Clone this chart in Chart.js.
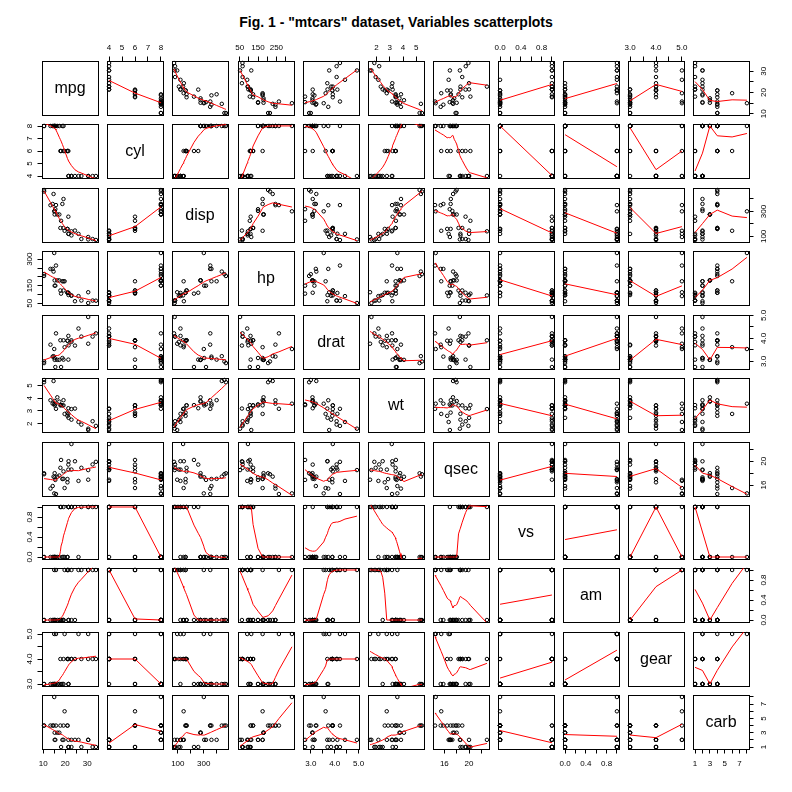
<!DOCTYPE html>
<html><head><meta charset="utf-8">
<script src="https://cdn.jsdelivr.net/npm/chart.js@4.4.1/dist/chart.umd.min.js"></script>
<style>
html,body{margin:0;padding:0;background:#fff;}
#wrap{position:relative;width:792px;height:792px;overflow:hidden;background:#fff;}
#title{position:absolute;left:0;width:792px;top:15px;text-align:center;font:bold 14px 'Liberation Sans',Arial,sans-serif;line-height:14px;color:#000;white-space:nowrap;}
canvas{position:absolute;}
</style></head><body>
<div id="wrap"><div id="title">Fig. 1 - "mtcars" dataset, Variables scatterplots</div></div>
<script>
// ---------------- data (mtcars) ----------------
const varNames = ["mpg","cyl","disp","hp","drat","wt","qsec","vs","am","gear","carb"];
const mpg  = [21.0,21.0,22.8,21.4,18.7,18.1,14.3,24.4,22.8,19.2,17.8,16.4,17.3,15.2,10.4,10.4,14.7,32.4,30.4,33.9,21.5,15.5,15.2,13.3,19.2,27.3,26.0,30.4,15.8,19.7,15.0,21.4];
const cyl  = [6,6,4,6,8,6,8,4,4,6,6,8,8,8,8,8,8,4,4,4,4,8,8,8,8,4,4,4,8,6,8,4];
const disp = [160,160,108,258,360,225,360,146.7,140.8,167.6,167.6,275.8,275.8,275.8,472,460,440,78.7,75.7,71.1,120.1,318,304,350,400,79,120.3,95.1,351,145,301,121];
const hp   = [110,110,93,110,175,105,245,62,95,123,123,180,180,180,205,215,230,66,52,65,97,150,150,245,175,66,91,113,264,175,335,109];
const drat = [3.90,3.90,3.85,3.08,3.15,2.76,3.21,3.69,3.92,3.92,3.92,3.07,3.07,3.07,2.93,3.00,3.23,4.08,4.93,4.22,3.70,2.76,3.15,3.73,3.08,4.08,4.43,3.77,4.22,3.62,3.54,4.11];
const wt   = [2.620,2.875,2.320,3.215,3.440,3.460,3.570,3.190,3.150,3.440,3.440,4.070,3.730,3.780,5.250,5.424,5.345,2.200,1.615,1.835,2.465,3.520,3.435,3.840,3.845,1.935,2.140,1.513,3.170,2.770,3.570,2.780];
const qsec = [16.46,17.02,18.61,19.44,17.02,20.22,15.84,20.00,22.90,18.30,18.90,17.40,17.60,18.00,17.98,17.82,17.42,19.47,18.52,19.90,20.01,16.87,17.30,15.41,17.05,18.90,16.70,16.90,14.50,15.50,14.60,18.60];
const vs   = [0,0,1,1,0,1,0,1,1,1,1,0,0,0,0,0,0,1,1,1,1,0,0,0,0,1,0,1,0,0,0,1];
const am   = [1,1,1,0,0,0,0,0,0,0,0,0,0,0,0,0,0,1,1,1,0,0,0,0,0,1,1,1,1,1,1,1];
const gear = [4,4,4,3,3,3,3,4,4,4,4,3,3,3,3,3,3,4,4,4,3,3,3,3,3,4,5,5,5,5,5,4];
const carb = [4,4,1,1,2,1,4,2,2,4,4,3,3,3,4,4,4,1,2,1,1,2,2,4,2,1,2,2,4,6,8,2];

// ---------------- ticks and tick labels ----------------
const mpgTicks  = [10,15,20,25,30];          const mpgLabels  = ["10","","20","","30"];
const cylTicks  = [4,5,6,7,8];               const cylLabels  = ["4","5","6","7","8"];
const dispTicks = [100,200,300,400];         const dispLabels = ["100","","300",""];
const hpTicks   = [50,100,150,200,250,300];  const hpLabelsH  = ["50","","150","","250",""];
                                             const hpLabelsV  = ["50","","150","","","300"];
const dratTicks = [3,3.5,4,4.5,5];           const dratLabels = ["3.0","","4.0","","5.0"];
const wtTicks   = [2,3,4,5];                 const wtLabels   = ["2","3","4","5"];
const qsecTicks = [16,18,20,22];             const qsecLabels = ["16","","20",""];
const vsTicks   = [0,0.2,0.4,0.6,0.8,1];     const vsLabels   = ["0.0","","0.4","","0.8",""];
const amTicks   = [0,0.2,0.4,0.6,0.8,1];     const amLabels   = ["0.0","","0.4","","0.8",""];
const gearTicks = [3,3.5,4,4.5,5];           const gearLabels = ["3.0","","4.0","","5.0"];
const carbTicks = [1,2,3,4,5,6,7,8];         const carbLabels = ["1","","3","","5","","7",""];

const titleText = 'Fig. 1 - "mtcars" dataset, Variables scatterplots';

// ---------------- assembly ----------------
const vars = [mpg,cyl,disp,hp,drat,wt,qsec,vs,am,gear,carb];
const ticksList = [mpgTicks,cylTicks,dispTicks,hpTicks,dratTicks,wtTicks,qsecTicks,vsTicks,amTicks,gearTicks,carbTicks];
const hLabelsList = [mpgLabels,cylLabels,dispLabels,hpLabelsH,dratLabels,wtLabels,qsecLabels,vsLabels,amLabels,gearLabels,carbLabels];
const vLabelsList = [mpgLabels,cylLabels,dispLabels,hpLabelsV,dratLabels,wtLabels,qsecLabels,vsLabels,amLabels,gearLabels,carbLabels];

// layout
const colLeft = [42,107,172,238,303,368,433,498,563,628,693];
const rowTop  = [61,124,188,251,315,378,442,505,568,632,695];
const W = 56, H = 54, M = 30;
const FAMILY = "'Liberation Sans', Arial, sans-serif";
const TICK_FS = 8, TL = 4.5;

document.getElementById('title').textContent = titleText;

// ---------------- R lowess (clowess port) ----------------
function lowest(X, Y, n, xs, nleft, nright, Wk, userw, RW) {
  const range = X[n] - X[1];
  const h = Math.max(xs - X[nleft], X[nright] - xs);
  const h9 = 0.999 * h, h1 = 0.001 * h;
  let a = 0, j = nleft;
  while (j <= n) {
    Wk[j] = 0;
    const r = Math.abs(X[j] - xs);
    if (r <= h9) {
      if (r <= h1) Wk[j] = 1;
      else { const q = r / h; const t = 1 - q * q * q; Wk[j] = t * t * t; }
      if (userw) Wk[j] *= RW[j];
      a += Wk[j];
    } else if (X[j] > xs) break;
    j++;
  }
  const nrt = j - 1;
  if (a <= 0) return { ok: false, ys: 0 };
  for (j = nleft; j <= nrt; j++) Wk[j] /= a;
  if (h > 0) {
    a = 0;
    for (j = nleft; j <= nrt; j++) a += Wk[j] * X[j];
    let b = xs - a, c = 0;
    for (j = nleft; j <= nrt; j++) c += Wk[j] * (X[j] - a) * (X[j] - a);
    if (Math.sqrt(c) > 0.001 * range) {
      b /= c;
      for (j = nleft; j <= nrt; j++) Wk[j] *= (b * (X[j] - a) + 1);
    }
  }
  let ys = 0;
  for (j = nleft; j <= nrt; j++) ys += Wk[j] * Y[j];
  return { ok: true, ys };
}
function clowess(X, Y, n, f, nsteps, delta) {
  const YS = new Float64Array(n + 1), RW = new Float64Array(n + 1), RES = new Float64Array(n + 1);
  if (n < 2) { YS[1] = Y[1]; return YS; }
  const ns = Math.max(2, Math.min(n, Math.floor(f * n + 1e-7)));
  let iter = 1;
  while (iter <= nsteps + 1) {
    let nleft = 1, nright = ns, last = 0, i = 1;
    for (;;) {
      if (nright < n) {
        const d1 = X[i] - X[nleft], d2 = X[nright + 1] - X[i];
        if (d1 > d2) { nleft++; nright++; continue; }
      }
      const r = lowest(X, Y, n, X[i], nleft, nright, RES, iter > 1, RW);
      YS[i] = r.ok ? r.ys : Y[i];
      if (last < i - 1) {
        const denom = X[i] - X[last];
        for (let j = last + 1; j < i; j++) {
          const alpha = (X[j] - X[last]) / denom;
          YS[j] = alpha * YS[i] + (1 - alpha) * YS[last];
        }
      }
      last = i;
      const cut = X[last] + delta;
      for (i = last + 1; i <= n; i++) {
        if (X[i] > cut) break;
        if (X[i] === X[last]) { YS[i] = YS[last]; last = i; }
      }
      i = Math.max(last + 1, i - 1);
      if (last >= n) break;
    }
    for (let k = 1; k <= n; k++) RES[k] = Y[k] - YS[k];
    let sc = 0; for (let k = 1; k <= n; k++) sc += Math.abs(RES[k]); sc /= n;
    if (iter > nsteps) break;
    const srt = []; for (let k = 1; k <= n; k++) srt.push(Math.abs(RES[k]));
    srt.sort((p, q) => p - q);
    const m1 = Math.floor(n / 2);
    let cmad;
    if (n % 2 === 0) { const m2 = n - m1 - 1; cmad = 3 * (srt[m1] + srt[m2]); }
    else cmad = 6 * srt[m1];
    if (cmad < 1e-7 * sc) break;
    const c9 = 0.999 * cmad, c1 = 0.001 * cmad;
    for (let k = 1; k <= n; k++) {
      const r = Math.abs(RES[k]);
      if (r <= c1) RW[k] = 1;
      else if (r <= c9) { const q = r / cmad; const t = 1 - q * q; RW[k] = t * t; }
      else RW[k] = 0;
    }
    iter++;
  }
  return YS;
}
function lowess(xin, yin, f = 2 / 3, iter = 3) {
  const n = xin.length;
  const idx = xin.map((_, k) => k).sort((a, b) => xin[a] - xin[b]);
  const X = [NaN].concat(idx.map(k => xin[k]));
  const Y = [NaN].concat(idx.map(k => yin[k]));
  const delta = 0.01 * (X[n] - X[1]);
  const YS = clowess(X, Y, n, f, iter, delta);
  const out = [];
  for (let k = 1; k <= n; k++) out.push({ x: X[k], y: YS[k] });
  return out;
}

// ---------------- helpers ----------------
function extRange(v) {
  const lo = Math.min(...v), hi = Math.max(...v), d = hi - lo;
  return [lo - 0.04 * d, hi + 0.04 * d];
}
const mctx = document.createElement('canvas').getContext('2d');
mctx.font = TICK_FS + "px " + FAMILY;
function widest(labels) { return Math.max(...labels.map(l => mctx.measureText(l).width)); }

const panelPlugin = {
  id: 'panelBox',
  beforeDatasetsDraw(chart, args, opts) {
    const { ctx, chartArea: a } = chart;
    ctx.save();
    ctx.strokeStyle = '#000'; ctx.lineWidth = 1;
    ctx.strokeRect(a.left + 0.5, a.top + 0.5, a.right - a.left, a.bottom - a.top);
    if (opts && opts.label) {
      ctx.fillStyle = '#000';
      ctx.font = "16px " + FAMILY;
      ctx.textAlign = 'center'; ctx.textBaseline = 'middle';
      ctx.fillText(opts.label, (a.left + a.right) / 2, (a.top + a.bottom) / 2 + 1);
    }
    ctx.restore();
  }
};

const wrap = document.getElementById('wrap');
const NV = varNames.length;

for (let i = 0; i < NV; i++) {
  for (let j = 0; j < NV; j++) {
    const xLab = (i === 0 && j % 2 === 1) ? 'top' : ((i === NV - 1 && j % 2 === 0) ? 'bottom' : null);
    const yLab = (j === 0 && i % 2 === 1) ? 'left' : ((j === NV - 1 && i % 2 === 0) ? 'right' : null);
    const [xmin, xmax] = extRange(vars[j]);
    const [ymin, ymax] = extRange(vars[i]);
    const xTicks = ticksList[j], yTicks = ticksList[i];
    const xLabels = hLabelsList[j], yLabels = vLabelsList[i];

    const cv = document.createElement('canvas');
    cv.width = W + 2 * M; cv.height = H + 2 * M;
    cv.style.left = (colLeft[j] - M) + 'px';
    cv.style.top = (rowTop[i] - M) + 'px';
    cv.style.width = (W + 2 * M) + 'px'; cv.style.height = (H + 2 * M) + 'px';
    wrap.appendChild(cv);

    const datasets = [];
    if (i !== j) {
      const pts = vars[j].map((xv, k) => ({ x: xv, y: vars[i][k] }));
      const smooth = lowess(vars[j], vars[i]);
      datasets.push({
        data: smooth, showLine: true, borderColor: '#ff0000', borderWidth: 1,
        pointRadius: 0, pointHoverRadius: 0, tension: 0, fill: false, clip: 0
      });
      datasets.push({
        data: pts, showLine: false, borderColor: '#000000', backgroundColor: 'rgba(0,0,0,0)',
        borderWidth: 1, pointRadius: 1.75, pointHoverRadius: 1.75, pointStyle: 'circle', clip: false
      });
    }

    const yPad = yLab ? Math.max(0, (yLab === 'left' ? 12.3 : 15) - TL - widest(yLabels.filter(s => s)) / 2) : 0;

    new Chart(cv, {
      type: 'scatter',
      data: { datasets },
      options: {
        responsive: false, animation: false, devicePixelRatio: 1, events: [],
        layout: {
          autoPadding: false,
          padding: {
            top: xLab === 'top' ? 0 : M,
            bottom: xLab === 'top' ? M : 0,
            left: yLab === 'right' ? M : 0,
            right: yLab === 'right' ? 0 : M
          }
        },
        plugins: { legend: { display: false }, tooltip: { enabled: false }, panelBox: { label: i === j ? varNames[i] : '' } },
        scales: {
          x: {
            type: 'linear', position: xLab === 'top' ? 'top' : 'bottom', min: xmin, max: xmax, bounds: 'data',
            afterBuildTicks: s => { s.ticks = xTicks.map(v => ({ value: v })); },
            afterFit: s => { s.height = M; },
            ticks: {
              display: !!xLab, autoSkip: false, minRotation: 0, maxRotation: 0,
              padding: xLab === 'top' ? 3.5 : 5.2, color: '#000',
              font: { size: TICK_FS, family: FAMILY },
              callback: (v, idx) => xLabels[idx]
            },
            grid: { display: !!xLab, drawOnChartArea: false, drawTicks: true, tickLength: TL, color: '#000', lineWidth: 1 },
            border: { display: false }
          },
          y: {
            type: 'linear', position: yLab === 'right' ? 'right' : 'left', min: ymin, max: ymax, bounds: 'data',
            afterBuildTicks: s => { s.ticks = yTicks.map(v => ({ value: v })); },
            afterFit: s => { s.width = M; },
            ticks: {
              display: !!yLab, autoSkip: false, minRotation: 90, maxRotation: 90, crossAlign: 'center',
              padding: yPad, color: '#000',
              font: { size: TICK_FS, family: FAMILY },
              callback: (v, idx) => yLabels[idx]
            },
            grid: { display: !!yLab, drawOnChartArea: false, drawTicks: true, tickLength: TL, color: '#000', lineWidth: 1 },
            border: { display: false }
          }
        }
      },
      plugins: [panelPlugin]
    });
  }
}
</script>
</body></html>
